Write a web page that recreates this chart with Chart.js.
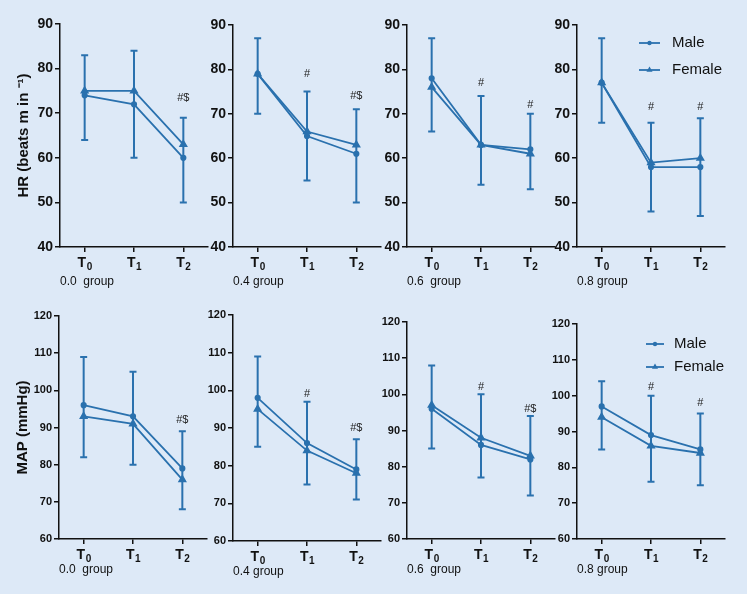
<!DOCTYPE html>
<html>
<head>
<meta charset="utf-8">
<script src="https://cdn.jsdelivr.net/npm/chart.js@4.4.0/dist/chart.umd.min.js"></script>
<style>
html, body { margin: 0; padding: 0; background: #dde9f7; }
body { width: 747px; height: 594px; position: relative; overflow: hidden; font-family: "Liberation Sans", Arial, sans-serif; }
canvas.panel { position: absolute; }
</style>
</head>
<body>
<script>
// time points (letter + subscript index) and group names
var timeLabels = ['T0', 'T1', 'T2'];
var groupNames = ['0.0  group', '0.4 group', '0.6  group', '0.8 group'];

// HR (beats/min), one row per group
var hrMale     = [[74, 72, 60], [79, 65, 61], [78, 63, 62], [77, 58, 58]];
var hrFemale   = [[75, 75, 63], [79, 66, 63], [76, 63, 61], [77, 59, 60]];
var hrErrHigh  = [[83, 84, 69], [87, 75, 71], [87, 74, 70], [87, 68, 69]];
var hrErrLow   = [[64, 60, 50], [70, 55, 50], [66, 54, 53], [68, 48, 47]];
var hrMarks    = [['', '', '#$'], ['', '#', '#$'], ['', '#', '#'], ['', '#', '#']];
var hrMarkAt   = [[null, null, 73.5], [null, 79, 74], [null, 77, 72], [null, 71.5, 71.5]];

// MAP (mmHg)
var mapMale    = [[96, 93, 79], [98, 86, 79], [96, 86, 82], [97, 89, 85]];
var mapFemale  = [[93, 91, 76], [95, 84, 78], [97, 88, 83], [94, 86, 84]];
var mapErrHigh = [[109, 105, 89], [109, 97, 87], [108, 100, 94], [104, 100, 95]];
var mapErrLow  = [[82, 80, 68], [85, 75, 71], [85, 77, 72], [85, 76, 75]];
var mapMarks   = [['', '', '#$'], ['', '#', '#$'], ['', '#', '#$'], ['', '#', '#']];
var mapMarkAt  = [[null, null, 92], [null, 99, 90], [null, 102, 96], [null, 102.5, 98]];

var blue = '#2a71ae';
var ink = '#111';
var FONT = '"Liberation Sans", Arial, sans-serif';
var PLOT_W = 148, Y_W = 50, PAD_T = 12, PAD_R = 8, X_H = 45;

var rows = [
    { male: hrMale, female: hrFemale, hi: hrErrHigh, lo: hrErrLow, marks: hrMarks, markAt: hrMarkAt,
      min: 40, max: 90, title: 'HR (beats m in \u207B\u00B9)', tickSize: 14, titleBottom: 3,
      lefts: [60, 233, 407, 577], tops: [24, 25, 25, 25], bottoms: [247, 247, 247, 247],
      legend: { dx: 62, dy: 18, gap: 27, line: 21, text: 33 } },
    { male: mapMale, female: mapFemale, hi: mapErrHigh, lo: mapErrLow, marks: mapMarks, markAt: mapMarkAt,
      min: 60, max: 120, title: 'MAP (mmHg)', tickSize: 11, titleBottom: 7,
      lefts: [59, 233, 407, 577], tops: [316, 315, 322, 324], bottoms: [539, 541, 539, 539],
      legend: { dx: 69, dy: 20, gap: 23, line: 18, text: 28 } }
];

function markerPath(ctx, style, x, y, r) {
    ctx.beginPath();
    if (style === 'triangle') {
        ctx.moveTo(x, y - r);
        ctx.lineTo(x + r * 0.87, y + r * 0.5);
        ctx.lineTo(x - r * 0.87, y + r * 0.5);
        ctx.closePath();
    } else {
        ctx.arc(x, y, r, 0, Math.PI * 2);
    }
    ctx.fill();
}

function errorPlugin(hi, lo, marks, markAt) {
    return {
        id: 'errorBars',
        beforeDatasetsDraw: function (chart) {
            var ctx = chart.ctx, x = chart.scales.x, y = chart.scales.y;
            ctx.save();
            ctx.strokeStyle = blue;
            ctx.lineWidth = 2;
            hi.forEach(function (h, i) {
                var px = x.getPixelForValue(i);
                var yh = y.getPixelForValue(h), yl = y.getPixelForValue(lo[i]);
                ctx.beginPath();
                ctx.moveTo(px, yh); ctx.lineTo(px, yl);
                ctx.moveTo(px - 3.5, yh); ctx.lineTo(px + 3.5, yh);
                ctx.moveTo(px - 3.5, yl); ctx.lineTo(px + 3.5, yl);
                ctx.stroke();
            });
            ctx.restore();
        },
        afterDatasetsDraw: function (chart) {
            var ctx = chart.ctx, x = chart.scales.x, y = chart.scales.y;
            ctx.save();
            ctx.fillStyle = '#222';
            ctx.font = '11px ' + FONT;
            ctx.textAlign = 'center';
            ctx.textBaseline = 'middle';
            marks.forEach(function (m, i) {
                if (!m) return;
                ctx.fillText(m, x.getPixelForValue(i), y.getPixelForValue(markAt[i]));
            });
            ctx.restore();
        }
    };
}

// x tick labels: first letter normal, rest as subscript
var subLabels = {
    id: 'subLabels',
    afterDraw: function (chart) {
        var ctx = chart.ctx, x = chart.scales.x, base = chart.chartArea.bottom;
        ctx.save();
        ctx.fillStyle = ink;
        ctx.textBaseline = 'alphabetic';
        ctx.textAlign = 'left';
        chart.data.labels.forEach(function (lab, i) {
            var main = lab.charAt(0), sub = lab.slice(1);
            ctx.font = 'bold 14px ' + FONT;
            var wm = ctx.measureText(main).width;
            ctx.font = 'bold 10px ' + FONT;
            var ws = ctx.measureText(sub).width;
            var x0 = x.getPixelForValue(i) - (wm + ws) / 2;
            ctx.font = 'bold 14px ' + FONT;
            ctx.fillText(main, x0, base + 20);
            ctx.font = 'bold 10px ' + FONT;
            ctx.fillText(sub, x0 + wm + 0.5, base + 23);
        });
        ctx.restore();
    }
};

function legendPlugin(pos) {
    return {
        id: 'innerLegend',
        afterDraw: function (chart) {
            var ctx = chart.ctx, area = chart.chartArea;
            ctx.save();
            chart.data.datasets.forEach(function (ds, i) {
                var x0 = area.left + pos.dx, yy = area.top + pos.dy + i * pos.gap;
                ctx.strokeStyle = blue;
                ctx.fillStyle = blue;
                ctx.lineWidth = 1.8;
                ctx.beginPath();
                ctx.moveTo(x0, yy); ctx.lineTo(x0 + pos.line, yy);
                ctx.stroke();
                markerPath(ctx, ds.pointStyle, x0 + pos.line / 2, yy, ds.pointStyle === 'triangle' ? 3.5 : 2.2);
                ctx.fillStyle = ink;
                ctx.font = '15px ' + FONT;
                ctx.textBaseline = 'middle';
                ctx.textAlign = 'left';
                ctx.fillText(ds.label, x0 + pos.text, yy);
            });
            ctx.restore();
        }
    };
}

rows.forEach(function (row, r) {
    for (var g = 0; g < 4; g++) {
        var plotH = row.bottoms[g] - row.tops[g];
        var canvas = document.createElement('canvas');
        canvas.className = 'panel';
        canvas.width = Y_W + PLOT_W + PAD_R;
        canvas.height = PAD_T + plotH + X_H;
        canvas.style.left = (row.lefts[g] - Y_W) + 'px';
        canvas.style.top = (row.tops[g] - PAD_T) + 'px';
        document.body.appendChild(canvas);

        var plugins = [errorPlugin(row.hi[g], row.lo[g], row.marks[g], row.markAt[g]), subLabels];
        if (g === 3) plugins.push(legendPlugin(row.legend));

        new Chart(canvas.getContext('2d'), {
            type: 'line',
            data: {
                labels: timeLabels,
                datasets: [
                    { label: 'Male', data: row.male[g], borderColor: blue, backgroundColor: blue,
                      borderWidth: 1.8, pointStyle: 'circle', pointRadius: 2.2, tension: 0 },
                    { label: 'Female', data: row.female[g], borderColor: blue, backgroundColor: blue,
                      borderWidth: 1.8, pointStyle: 'triangle', pointRadius: 3.5, tension: 0 }
                ]
            },
            options: {
                responsive: false,
                animation: false,
                layout: { padding: { top: PAD_T, right: PAD_R, left: 0, bottom: 0 } },
                plugins: { legend: { display: false }, tooltip: { enabled: false } },
                scales: {
                    x: {
                        type: 'category',
                        offset: true,
                        afterFit: function (s) { s.height = X_H; },
                        grid: { drawOnChartArea: false, drawTicks: true, tickLength: 5, color: ink, lineWidth: 1.5 },
                        border: { display: true, color: ink, width: 1.5 },
                        ticks: { display: false },
                        title: { display: true, text: groupNames[g], align: 'start', color: ink,
                                 padding: { top: 0, bottom: row.titleBottom },
                                 font: { size: 12, family: FONT } }
                    },
                    y: {
                        min: row.min,
                        max: row.max,
                        afterFit: function (s) { s.width = Y_W; },
                        grid: { drawOnChartArea: false, drawTicks: true, tickLength: 5, color: ink, lineWidth: 1.5 },
                        border: { display: true, color: ink, width: 1.5 },
                        ticks: { stepSize: 10, color: ink, padding: 2,
                                 font: { size: row.tickSize, weight: 'bold', family: FONT } },
                        title: { display: g === 0, text: row.title, color: ink, padding: { top: 5, bottom: 0 },
                                 font: { size: 15, weight: 'bold', family: FONT } }
                    }
                }
            },
            plugins: plugins
        });
    }
});
</script>
</body>
</html>
